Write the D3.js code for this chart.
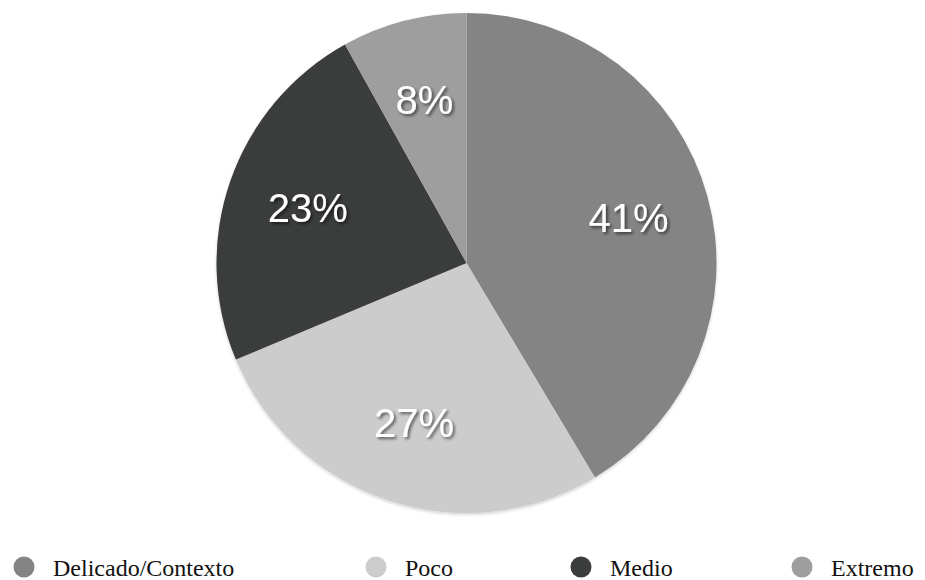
<!DOCTYPE html>
<html>
<head>
<meta charset="utf-8">
<script src="https://cdn.jsdelivr.net/npm/d3@7"></script>
<style>
  html, body { margin: 0; padding: 0; background: #fff; }
  svg { display: block; }
</style>
</head>
<body>
<svg id="chart" width="925" height="580"></svg>
<script>
// Share of responses per category
const categories = ["Delicado/Contexto", "Poco", "Medio", "Extremo"];
const values = [41, 27, 23, 8];
const colors = ["#838483", "#cbcccb", "#3b3c3c", "#9d9e9d"];
const legendX = [24, 376, 581, 802];

const svg = d3.select("#chart");
const cx = 466.5, cy = 263, radius = 250, labelRadius = 168;

const defs = svg.append("defs");
const shadow = defs.append("filter").attr("id", "txtShadow")
  .attr("x", "-20%").attr("y", "-20%").attr("width", "140%").attr("height", "140%");
shadow.append("feDropShadow")
  .attr("dx", 2).attr("dy", 2).attr("stdDeviation", 1.6)
  .attr("flood-color", "#000").attr("flood-opacity", 0.55);

const edge = defs.append("filter").attr("id", "pieShadow")
  .attr("x", "-10%").attr("y", "-10%").attr("width", "120%").attr("height", "120%");
edge.append("feDropShadow")
  .attr("dx", 0).attr("dy", 1.5).attr("stdDeviation", 1.5)
  .attr("flood-color", "#000").attr("flood-opacity", 0.18);

const pie = d3.pie().sort(null).value(d => d.value);
const data = pie(categories.map((c, i) => ({ name: c, value: values[i], color: colors[i] })));

const arc = d3.arc().innerRadius(0).outerRadius(radius);
const labelArc = d3.arc().innerRadius(labelRadius).outerRadius(labelRadius);

const g = svg.append("g").attr("transform", `translate(${cx},${cy})`);

g.append("g").attr("filter", "url(#pieShadow)")
  .selectAll("path")
  .data(data)
  .join("path")
  .attr("d", arc)
  .attr("fill", d => d.data.color);

g.selectAll("text.pct")
  .data(data)
  .join("text")
  .attr("class", "pct")
  .attr("transform", d => {
    const [x, y] = labelArc.centroid(d);
    return `translate(${x},${y + 14})`;
  })
  .attr("text-anchor", "middle")
  .attr("font-family", "'Liberation Sans', Arial, Helvetica, sans-serif")
  .attr("font-size", 40)
  .attr("fill", "#fff")
  .attr("filter", "url(#txtShadow)")
  .text(d => d.data.value + "%");

// Legend along the bottom edge
const legend = svg.append("g");
const items = legend.selectAll("g")
  .data(data)
  .join("g")
  .attr("transform", (d, i) => `translate(${legendX[i]},567)`);

items.append("circle")
  .attr("r", 10.5)
  .attr("fill", d => d.data.color);

items.append("text")
  .attr("x", 29)
  .attr("y", 9)
  .attr("font-family", "'Liberation Serif', 'Times New Roman', serif")
  .attr("font-size", 24)
  .attr("fill", "#111")
  .text(d => d.data.name);
</script>
</body>
</html>
